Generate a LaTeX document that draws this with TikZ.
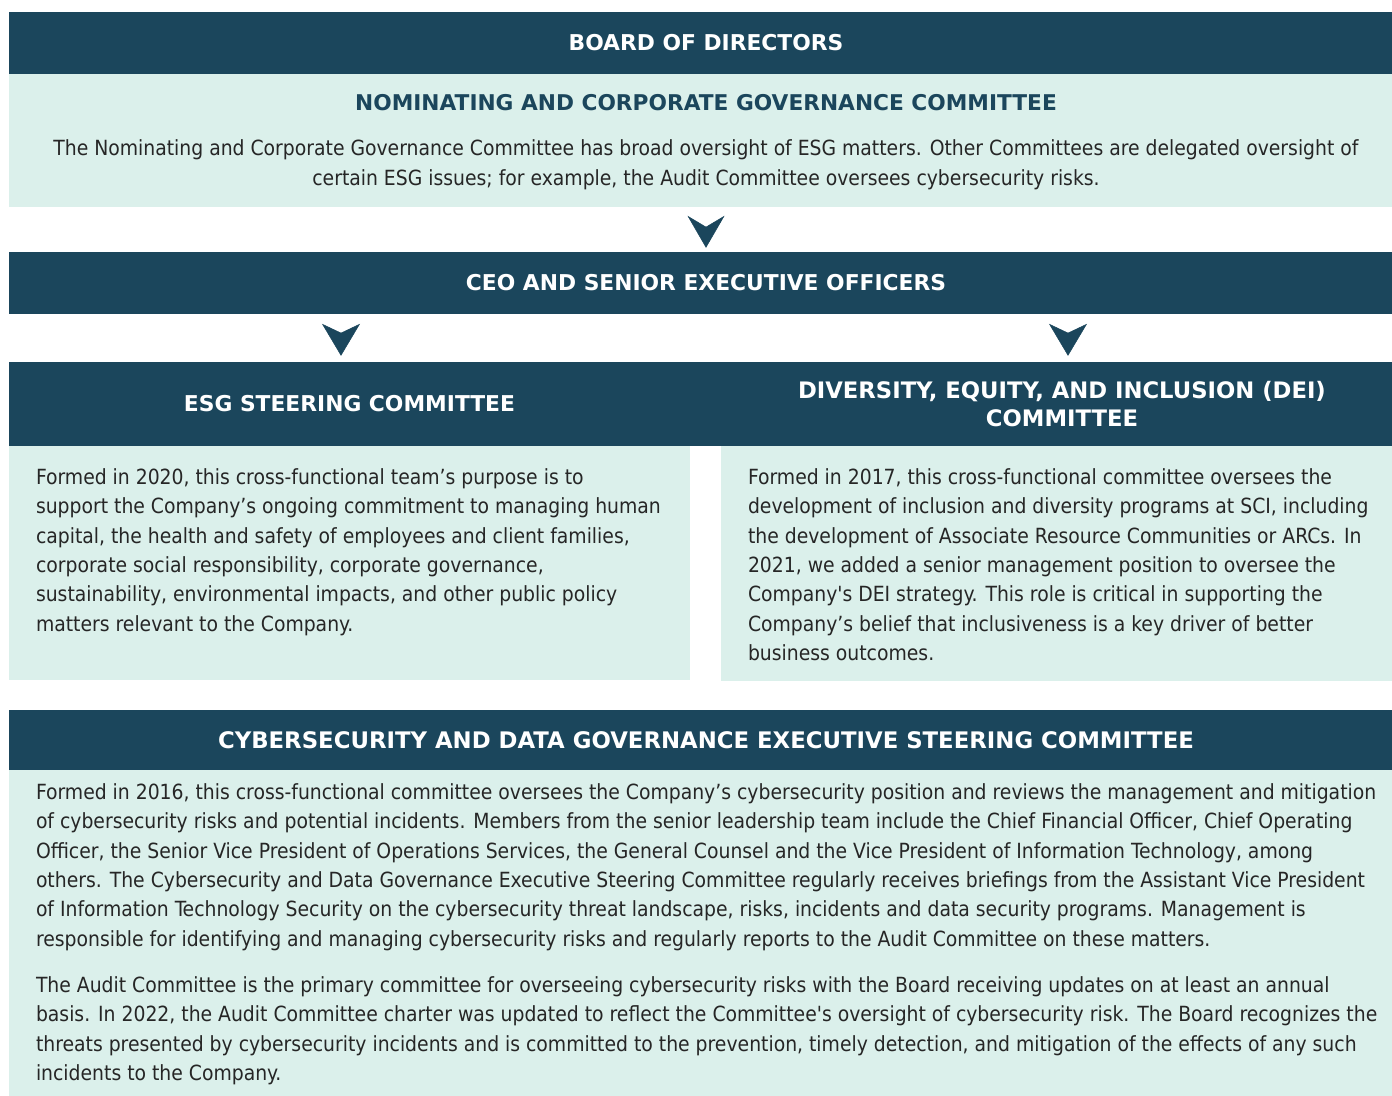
\documentclass[tikz,border=0pt]{standalone}
\usepackage{fontspec}
\usepackage{xcolor}
\usetikzlibrary{arrows.meta, positioning, calc}
\setmainfont{DejaVu Sans Condensed}
\newfontfamily\headfont{DejaVu Sans}
\definecolor{govnavy}{HTML}{1B465C}
\definecolor{govmint}{HTML}{DBF0EB}
\definecolor{govtext}{HTML}{262626}
\newcommand{\headsize}[1]{\headfont\bfseries\fontsize{#1}{28}\selectfont}

\begin{document}
\begin{tikzpicture}[
    x=1pt, y=-1pt,
    band/.style={fill=govnavy, inner sep=0pt, text=white, font=\headsize{21.8}, align=center},
    panel/.style={fill=govmint, inner sep=0pt},
    bodytext/.style={inner sep=0pt, text=govtext, font=\fontsize{20.9}{29.4}\selectfont, align=left},
    chevron/.style={draw=govnavy, line width=0.5pt, -{Stealth[length=32pt, width=37pt, inset=11pt]}},
]
    \useasboundingbox (0,0) rectangle (1392,1095);
    \clip (0,0) rectangle (1392,1095);

    % Board and nominating committee
    \node[band, minimum width=1394pt, minimum height=62pt] (board) at (706,43) {BOARD OF DIRECTORS};
    \node[panel, minimum width=1394pt, minimum height=133pt] (ncgc) at (706,140.5) {};
    \node[inner sep=0pt, text=govnavy, font=\headsize{21.7}] (ncgctitle) at (706,103) {NOMINATING AND CORPORATE GOVERNANCE COMMITTEE};
    \node[bodytext, align=center, font=\fontsize{20.9}{30}\selectfont] (ncgctext) at (706,165) {The Nominating and Corporate Governance Committee has broad oversight of ESG matters. Other Committees are delegated oversight of\\certain ESG issues; for example, the Audit Committee oversees cybersecurity risks.};

    % CEO level
    \node[band, minimum width=1394pt, minimum height=62pt] (ceo) at (706,283) {CEO AND SENIOR EXECUTIVE OFFICERS};
    \draw[chevron, shorten <=21pt, shorten >=4pt] (ncgc.south) -- (ceo.north);

    % Steering committees
    \node[band, minimum width=681pt, minimum height=84pt] (esghead) at (349.5,404) {ESG STEERING COMMITTEE};
    \node[band, minimum width=682pt, minimum height=84pt, font=\headsize{22.7}] (deihead) at (1062,404) {DIVERSITY, EQUITY, AND INCLUSION (DEI)\\COMMITTEE};
    \fill[govnavy] (esghead.north east) rectangle (deihead.south west);
    \coordinate (esgcol) at (341,0);
    \coordinate (deicol) at (1068,0);
    \draw[chevron, shorten <=20pt, shorten >=6pt, -{Stealth[length=32pt, width=38pt, inset=9pt]}] (ceo.south -| esgcol) -- (esghead.north -| esgcol);
    \draw[chevron, shorten <=20pt, shorten >=6pt, -{Stealth[length=32pt, width=38pt, inset=9pt]}] (ceo.south -| deicol) -- (deihead.north -| deicol);

    \node[panel, minimum width=681pt, minimum height=234pt, anchor=north] (esgbody) at (esghead.south) {};
    \node[panel, minimum width=682pt, minimum height=235pt, anchor=north] (deibody) at (deihead.south) {};
    \node[bodytext, anchor=north west] (esgtext) at ([shift={(27,22)}]esgbody.north west) {Formed in 2020, this cross-functional team’s purpose is to\\support the Company’s ongoing commitment to managing human\\capital, the health and safety of employees and client families,\\corporate social responsibility, corporate governance,\\sustainability, environmental impacts, and other public policy\\matters relevant to the Company.};
    \node[bodytext, anchor=north west] (deitext) at ([shift={(27,22)}]deibody.north west) {Formed in 2017, this cross-functional committee oversees the\\development of inclusion and diversity programs at SCI, including\\the development of Associate Resource Communities or ARCs. In\\2021, we added a senior management position to oversee the\\Company\textquotesingle s DEI strategy. This role is critical in supporting the\\Company’s belief that inclusiveness is a key driver of better\\business outcomes.};

    % Cybersecurity committee
    \node[band, minimum width=1394pt, minimum height=61pt, font=\headsize{22.8}] (cyberhead) at (706,740) {CYBERSECURITY AND DATA GOVERNANCE EXECUTIVE STEERING COMMITTEE};
    \node[panel, minimum width=1394pt, minimum height=340pt, anchor=north] (cyberbody) at ([yshift=0.5pt]cyberhead.south) {};
    \node[bodytext, anchor=north west] (cybertext) at ([shift={(27,13)}]cyberbody.north west) {Formed in 2016, this cross-functional committee oversees the Company’s cybersecurity position and reviews the management and mitigation\\of cybersecurity risks and potential incidents. Members from the senior leadership team include the Chief Financial Officer, Chief Operating\\Officer, the Senior Vice President of Operations Services, the General Counsel and the Vice President of Information Technology, among\\others. The Cybersecurity and Data Governance Executive Steering Committee regularly receives briefings from the Assistant Vice President\\of Information Technology Security on the cybersecurity threat landscape, risks, incidents and data security programs. Management is\\responsible for identifying and managing cybersecurity risks and regularly reports to the Audit Committee on these matters.\\[16.6pt]The Audit Committee is the primary committee for overseeing cybersecurity risks with the Board receiving updates on at least an annual\\basis. In 2022, the Audit Committee charter was updated to reflect the Committee\textquotesingle s oversight of cybersecurity risk. The Board recognizes the\\threats presented by cybersecurity incidents and is committed to the prevention, timely detection, and mitigation of the effects of any such\\incidents to the Company.};
\end{tikzpicture}
\end{document}
